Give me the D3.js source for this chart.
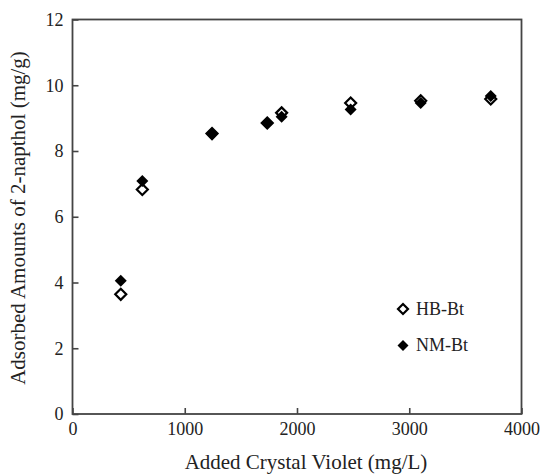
<!DOCTYPE html>
<html lang="en">
<head>
<meta charset="utf-8">
<title>Adsorbed 2-napthol vs added crystal violet</title>
<script src="https://cdnjs.cloudflare.com/ajax/libs/d3/7.8.5/d3.min.js"></script>
<style>
  body { margin: 0; background: #fff; }
  svg text { font-family: "Liberation Serif", "DejaVu Serif", serif; fill: #222; }
</style>
</head>
<body>
<div id="chart"></div>
<script>
// values
const addedCV = [430, 622, 1243, 1735, 1863, 2478, 3102, 3726];
const hbBt    = [3.64, 6.83, 8.53, 8.85, 9.16, 9.46, 9.53, 9.58];
const nmBt    = [4.05, 7.09, 8.53, 8.85, 9.04, 9.26, 9.46, 9.67];
const xTicks  = [0, 1000, 2000, 3000, 4000];
const yTicks  = [0, 2, 4, 6, 8, 10, 12];
const seriesNames = ['HB-Bt', 'NM-Bt'];

const w = 540, h = 475;
const margin = {left: 72.5, right: 18.5, top: 19.5, bottom: 61};

const svg = d3.select('#chart').append('svg')
  .attr('width', w).attr('height', h);

const x = d3.scaleLinear().domain([0, 4000]).range([margin.left, w - margin.right]);
const y = d3.scaleLinear().domain([0, 12]).range([h - margin.bottom, margin.top]);

// square diamond, a bit different from d3.symbolDiamond which is tall
const diamond = {
  draw(ctx, size) {
    const r = Math.sqrt(size) / 2;
    ctx.moveTo(0, -r); ctx.lineTo(r, 0); ctx.lineTo(0, r); ctx.lineTo(-r, 0); ctx.closePath();
  }
};
const sym = d3.symbol().type(diamond).size(144);

// axes, ticks pointing in
const xAxis = d3.axisBottom(x).tickValues(xTicks).tickSize(-6).tickPadding(8).tickFormat(d3.format('d'));
const yAxis = d3.axisLeft(y).tickValues(yTicks).tickSize(-6).tickPadding(9).tickFormat(d3.format('d'));

const gx = svg.append('g')
  .attr('transform', 'translate(0,' + y(0) + ')')
  .call(xAxis);
const gy = svg.append('g')
  .attr('transform', 'translate(' + x(0) + ',0)')
  .call(yAxis);

[gx, gy].forEach(g => {
  g.select('.domain').remove();
  g.selectAll('.tick line').attr('stroke', '#444').attr('stroke-width', 1.6);
  g.selectAll('.tick text').style('font-size', '18px').attr('fill', '#222');
});

// frame
svg.append('rect')
  .attr('x', x(0)).attr('y', y(12))
  .attr('width', x(4000) - x(0)).attr('height', y(0) - y(12))
  .attr('fill', 'none').attr('stroke', '#444').attr('stroke-width', 1.8);

// axis titles
svg.append('text')
  .attr('x', 306).attr('y', 469)
  .attr('text-anchor', 'middle')
  .style('font-size', '21px')
  .text('Added Crystal Violet (mg/L)');

svg.append('text')
  .attr('transform', 'translate(25,' + 218 + ') rotate(-90)')
  .attr('text-anchor', 'middle')
  .style('font-size', '21px')
  .text('Adsorbed Amounts of 2-napthol (mg/g)');

// points: open diamonds first, filled on top
svg.append('g').selectAll('path')
  .data(addedCV.map((c, i) => ({c: c, v: hbBt[i]})))
  .enter().append('path')
  .attr('d', d3.symbol().type(diamond).size(121))
  .attr('transform', d => 'translate(' + x(d.c) + ',' + y(d.v) + ')')
  .attr('fill', '#fff').attr('stroke', '#000').attr('stroke-width', 2.2);

svg.append('g').selectAll('path')
  .data(addedCV.map((c, i) => ({c: c, v: nmBt[i]})))
  .enter().append('path')
  .attr('d', sym)
  .attr('transform', d => 'translate(' + x(d.c) + ',' + y(d.v) + ')')
  .attr('fill', '#000');

// legend
const legend = svg.append('g').attr('transform', 'translate(403,309)');
const items = legend.selectAll('g')
  .data(seriesNames)
  .enter().append('g')
  .attr('transform', (d, i) => 'translate(0,' + (i * 36.5) + ')');
items.append('path')
  .attr('d', (d, i) => i === 0 ? d3.symbol().type(diamond).size(100)() : d3.symbol().type(diamond).size(121)())
  .attr('fill', (d, i) => i === 0 ? '#fff' : '#000')
  .attr('stroke', (d, i) => i === 0 ? '#000' : 'none')
  .attr('stroke-width', 2.2);
items.append('text')
  .attr('x', 13).attr('dy', '0.32em')
  .style('font-size', '18px')
  .text(d => d);
</script>
</body>
</html>
